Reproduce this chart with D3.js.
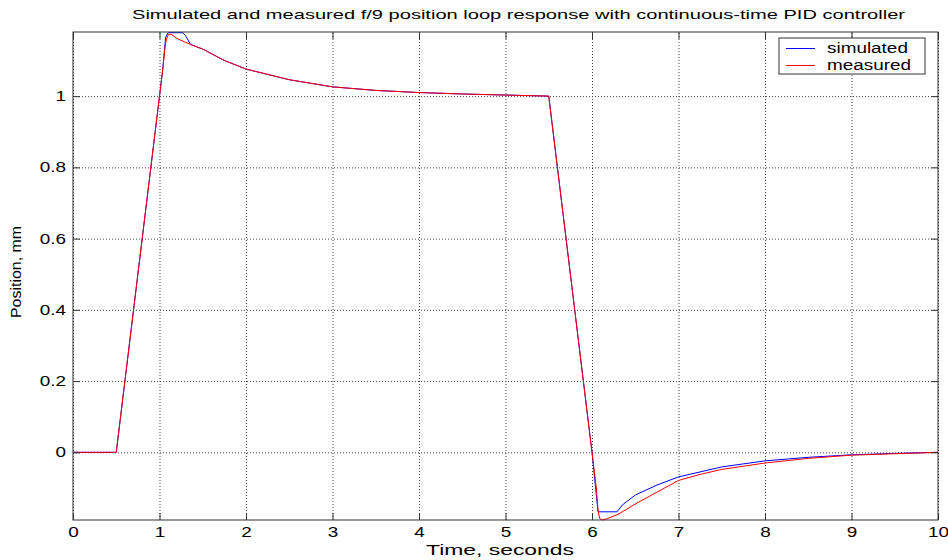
<!DOCTYPE html>
<html>
<head>
<meta charset="utf-8">
<script src="https://cdn.jsdelivr.net/npm/d3@7"></script>
<style>
  body { margin: 0; background: #fff; }
  svg { display: block; font-family: Arial, "Liberation Sans", Helvetica, sans-serif; }
</style>
</head>
<body>
<svg width="948" height="560"></svg>
<script>
// simulated response (time in s, position in mm)
const simTime = [0, 0.5, 1.0, 1.04, 1.07, 1.1, 1.27, 1.3, 1.36, 1.5, 1.75, 2, 2.5, 3, 3.5, 4, 4.5, 5, 5.5,
  6.0, 6.07, 6.29, 6.35, 6.5, 6.75, 7, 7.5, 8, 8.5, 9, 9.5, 10];
const simPos = [0, 0, 1.0, 1.08, 1.165, 1.178, 1.178, 1.17, 1.145, 1.132, 1.10, 1.076, 1.046, 1.026, 1.016, 1.010, 1.006, 1.003, 1.0,
  0.0, -0.167, -0.167, -0.148, -0.12, -0.092, -0.069, -0.041, -0.024, -0.014, -0.007, -0.003, 0];

// measured response
const measTime = [0, 0.5, 1.0, 1.04, 1.06, 1.08, 1.1, 1.13, 1.17, 1.2, 1.3, 1.4, 1.5, 1.75, 2, 2.5, 3, 3.5, 4, 4.5, 5, 5.5,
  6.0, 6.05, 6.07, 6.09, 6.12, 6.18, 6.3, 6.4, 6.5, 6.75, 7, 7.25, 7.5, 8, 8.5, 9, 9.5, 10];
const measPos = [0, 0, 1.0, 1.08, 1.13, 1.16, 1.172, 1.174, 1.168, 1.162, 1.151, 1.141, 1.132, 1.10, 1.076, 1.046, 1.026, 1.016, 1.010, 1.006, 1.003, 1.0,
  0.0, -0.1, -0.165, -0.186, -0.19, -0.186, -0.174, -0.16, -0.145, -0.112, -0.079, -0.062, -0.048, -0.030, -0.017, -0.008, -0.004, 0];

const xTicks = [0, 1, 2, 3, 4, 5, 6, 7, 8, 9, 10];
const yTicks = [0, 0.2, 0.4, 0.6, 0.8, 1];

const seriesNames = ['simulated', 'measured'];
const seriesColors = ['#0000ff', '#ff0000'];

const margin = { top: 32, right: 10, bottom: 40, left: 73 },
  width = 948 - margin.left - margin.right,
  height = 560 - margin.top - margin.bottom;

const stretch = 1.35; // the reference text is drawn wide

function widen(sel, factor) {
  sel.each(function () {
    const len = this.getComputedTextLength();
    d3.select(this).attr('textLength', len * factor).attr('lengthAdjust', 'spacingAndGlyphs');
  });
}

const svg = d3.select('svg');
svg.append('rect').attr('width', 948).attr('height', 560).attr('fill', '#fff');

const g = svg.append('g').attr('transform', 'translate(' + margin.left + ',' + margin.top + ')');

const x = d3.scaleLinear().domain([0, 10]).range([0, width]);
const y = d3.scaleLinear().domain([-0.19, 1.18]).range([height, 0]);

// grid
g.append('g')
  .attr('class', 'grid')
  .attr('transform', 'translate(0,' + height + ')')
  .call(d3.axisBottom(x).tickValues(xTicks).tickSize(-height).tickFormat(''));
g.append('g')
  .attr('class', 'grid')
  .call(d3.axisLeft(y).tickValues(yTicks).tickSize(-width).tickFormat(''));
g.selectAll('.grid .domain').remove();
g.selectAll('.grid line')
  .attr('stroke', '#444')
  .attr('stroke-dasharray', '1,2')
  .attr('stroke-width', 1);

// lines
const line = d3.line().x(d => x(d[0])).y(d => y(d[1]));
const simData = simTime.map((t, i) => [t, simPos[i]]);
const measData = measTime.map((t, i) => [t, measPos[i]]);

g.append('path').datum(simData)
  .attr('d', line).attr('fill', 'none')
  .attr('stroke', seriesColors[0]).attr('stroke-width', 1);
g.append('path').datum(measData)
  .attr('d', line).attr('fill', 'none')
  .attr('stroke', seriesColors[1]).attr('stroke-width', 1);

// axes, ticks pointing inward
const xAxis = g.append('g')
  .attr('transform', 'translate(0,' + height + ')')
  .call(d3.axisBottom(x).tickValues(xTicks).tickSizeInner(-7).tickSizeOuter(0).tickPadding(7).tickFormat(d3.format('d')));
const yAxis = g.append('g')
  .call(d3.axisLeft(y).tickValues(yTicks).tickSizeInner(-7).tickSizeOuter(0).tickPadding(7).tickFormat(d => d === 0 || d === 1 ? d : d3.format('.1f')(d)));
g.append('g')
  .call(d3.axisTop(x).tickValues(xTicks).tickSizeInner(-7).tickSizeOuter(0).tickFormat(''));
g.append('g')
  .attr('transform', 'translate(' + width + ',0)')
  .call(d3.axisRight(y).tickValues(yTicks).tickSizeInner(-7).tickSizeOuter(0).tickFormat(''));

g.selectAll('.domain').remove();
g.selectAll('.tick line').filter(function () { return this.parentNode.parentNode.getAttribute('class') !== 'grid'; })
  .attr('stroke', '#333');

[xAxis, yAxis].forEach(a => {
  a.selectAll('text')
    .attr('font-size', 14)
    .attr('font-family', 'Arial, "Liberation Sans", sans-serif')
    .attr('fill', '#000');
});
widen(xAxis.selectAll('text'), stretch);
widen(yAxis.selectAll('text'), stretch);

g.append('rect')
  .attr('width', width).attr('height', height)
  .attr('fill', 'none').attr('stroke', '#333').attr('stroke-width', 1);

// legend
const legend = svg.append('g').attr('transform', 'translate(779,38)');
legend.append('rect')
  .attr('width', 146).attr('height', 36)
  .attr('fill', '#fff').attr('stroke', '#333').attr('stroke-width', 1);
seriesNames.forEach((name, i) => {
  const row = legend.append('g').attr('transform', 'translate(0,' + (10.5 + i * 17) + ')');
  row.append('line')
    .attr('x1', 7).attr('x2', 36)
    .attr('stroke', seriesColors[i]).attr('stroke-width', 1);
  row.append('text')
    .attr('x', 48).attr('y', 4)
    .attr('font-size', 14)
    .text(name);
});
widen(legend.selectAll('text'), stretch);

// title and axis labels
svg.append('text')
  .attr('x', 132).attr('y', 19)
  .attr('font-size', 13)
  .attr('textLength', 773).attr('lengthAdjust', 'spacingAndGlyphs')
  .text('Simulated and measured f/9 position loop response with continuous-time PID controller');

svg.append('text')
  .attr('x', 500).attr('y', 555)
  .attr('text-anchor', 'middle')
  .attr('font-size', 14)
  .attr('textLength', 148).attr('lengthAdjust', 'spacingAndGlyphs')
  .text('Time, seconds');

svg.append('text')
  .attr('transform', 'translate(21,272) rotate(-90)')
  .attr('text-anchor', 'middle')
  .attr('font-size', 14)
  .attr('textLength', 92).attr('lengthAdjust', 'spacingAndGlyphs')
  .text('Position, mm');
</script>
</body>
</html>
